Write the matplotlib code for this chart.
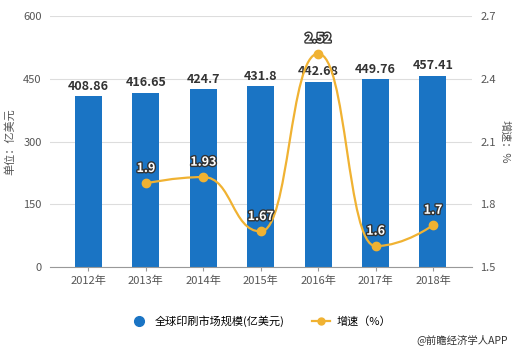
import numpy as np
import matplotlib
matplotlib.use('Agg')
import matplotlib.pyplot as plt
from matplotlib.path import Path
from matplotlib.patches import PathPatch
import matplotlib.patheffects as pe
from matplotlib.lines import Line2D

plt.rcParams['font.family'] = ['Noto Sans CJK SC', 'DejaVu Sans']

years = ['2012年', '2013年', '2014年', '2015年', '2016年', '2017年', '2018年']
market = [408.86, 416.65, 424.7, 431.8, 442.68, 449.76, 457.41]
growth = [None, 1.9, 1.93, 1.67, 2.52, 1.6, 1.7]

bar_color = '#1a74c4'
line_color = '#f0b232'
tick_color = '#555555'

fig = plt.figure(figsize=(5.21, 3.52), dpi=100)
ax = fig.add_axes([0.096, 0.2415, 0.81, 0.713])
ax2 = ax.twinx()

x = np.arange(len(years))
ax.bar(x, market, width=0.47, color=bar_color, zorder=2)
for xi, v in zip(x, market):
    ax.text(xi, v + 8, f'{v:g}', ha='center', va='bottom', fontsize=9,
            fontweight='bold', color='#333333')

ax.set_xlim(-0.67, 6.68)
ax.set_ylim(0, 600)
ax.set_yticks([0, 150, 300, 450, 600])
ax.grid(axis='y', color='#dddddd', lw=0.8, zorder=0)
ax.set_axisbelow(True)
for s in ['top', 'right', 'left']:
    ax.spines[s].set_visible(False)
    ax2.spines[s].set_visible(False)
ax.spines['bottom'].set_color('#999999')
ax2.spines['bottom'].set_visible(False)
ax.set_xticks(x)
ax.set_xticklabels(years)
ax.tick_params(axis='x', colors=tick_color, labelsize=8, length=3, color='#999999')
ax.tick_params(axis='y', colors=tick_color, labelsize=8, length=0, pad=6)
ax.set_ylabel('单位：亿美元', color=tick_color, fontsize=8, labelpad=6)

# growth line, smoothed; flat tangents at local extrema (no overshoot)
gx = [xi for xi, g in zip(x, growth) if g is not None]
gy = [g for g in growth if g is not None]
pts = np.column_stack([gx, gy]).astype(float)
n = len(pts)
tang = np.zeros_like(pts)
for i in range(1, n - 1):
    v = (pts[i + 1] - pts[i - 1]) * 0.25
    if (pts[i, 1] - pts[i - 1, 1]) * (pts[i + 1, 1] - pts[i, 1]) <= 0:
        v[1] = 0.0
    tang[i] = v
verts = [pts[0]]
codes = [Path.MOVETO]
for i in range(n - 1):
    verts += [pts[i] + tang[i], pts[i + 1] - tang[i + 1], pts[i + 1]]
    codes += [Path.CURVE4] * 3
ax2.add_patch(PathPatch(Path(verts, codes), fill=False, edgecolor=line_color,
                        lw=1.6, zorder=3))
ax2.plot(gx, gy, 'o', color=line_color, ms=6, zorder=4)
for xi, g in zip(gx, gy):
    ax2.text(xi, g + 0.04, f'{g:g}', ha='center', va='bottom', fontsize=9,
             fontweight='bold', color='white', zorder=5,
             path_effects=[pe.withStroke(linewidth=2, foreground='#333333')])

ax2.set_ylim(1.5, 2.7)
ax2.set_yticks([1.5, 1.8, 2.1, 2.4, 2.7])
ax2.set_yticklabels(['1.5', '1.8', '2.1', '2.4', '2.7'])
ax2.tick_params(axis='y', colors=tick_color, labelsize=8, length=0, pad=6)
ax2.set_ylabel('增速：%', color=tick_color, fontsize=8, rotation=270, labelpad=10)

handles = [
    Line2D([], [], marker='o', color=bar_color, ls='none', ms=7),
    Line2D([], [], marker='o', color=line_color, lw=1.6, ms=5),
]
fig.legend(handles, ['全球印刷市场规模(亿美元)', '增速（%）'], loc='center',
           bbox_to_anchor=(0.5, 0.088), ncol=2, frameon=False, fontsize=8,
           handlelength=1.6, columnspacing=2.5, handletextpad=0.6)
fig.text(0.975, 0.02, '@前瞻经济学人APP', ha='right', va='bottom', fontsize=7.5,
         color='#333333')

fig.savefig('out.png', dpi=100)
